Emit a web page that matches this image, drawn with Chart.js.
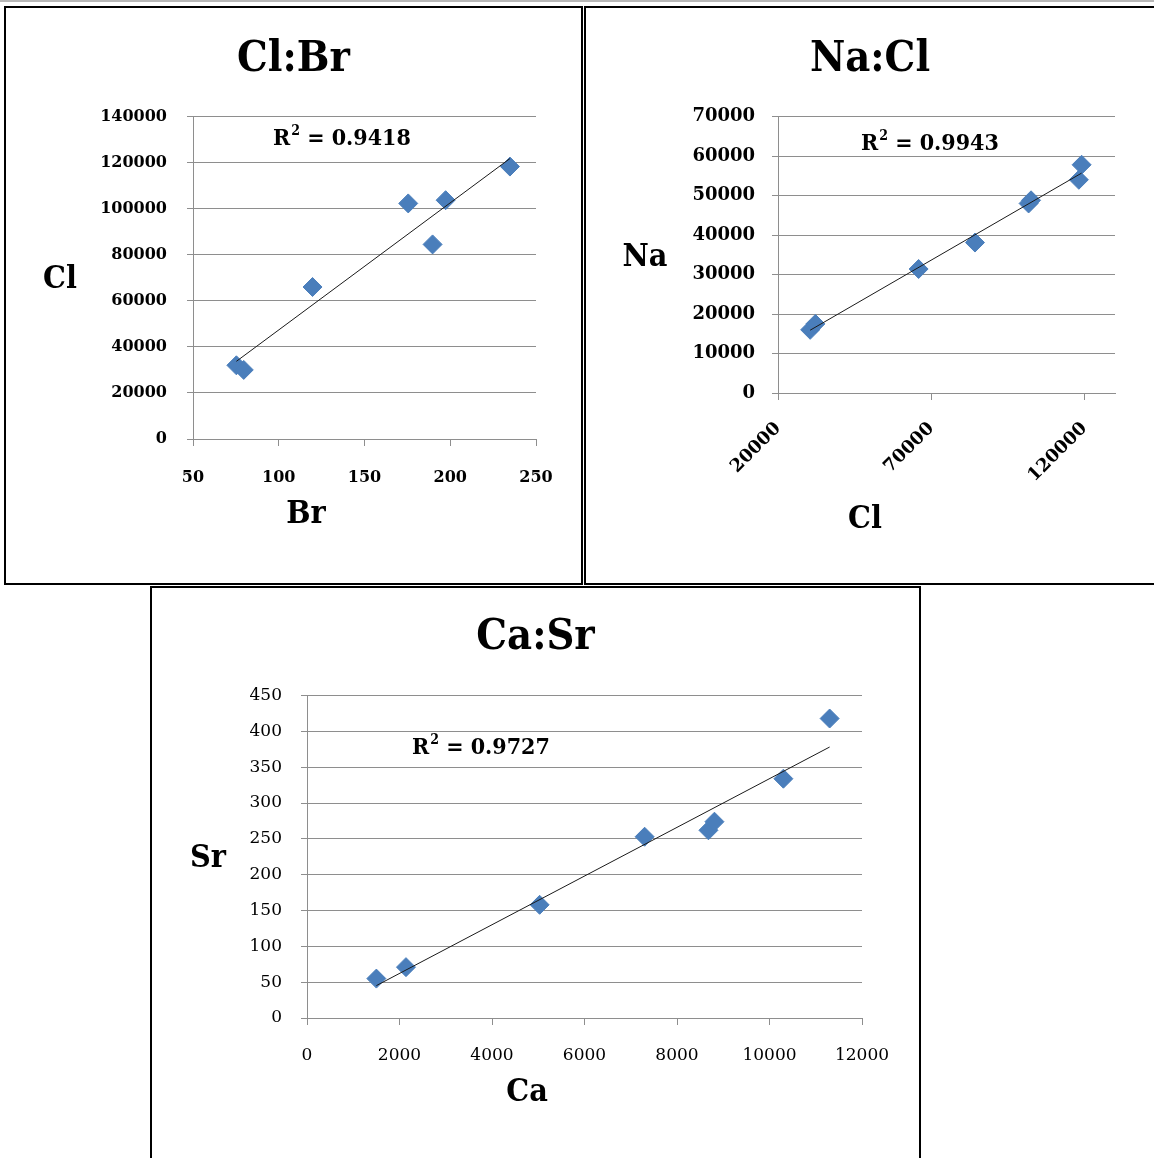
<!DOCTYPE html>
<html>
<head>
<meta charset="utf-8">
<title>Cl:Br, Na:Cl, Ca:Sr</title>
<script src="https://cdn.jsdelivr.net/npm/chart.js@4.4.0/dist/chart.umd.min.js"></script>
<style>
  html, body { margin: 0; padding: 0; background: #fff; }
  body { position: relative; width: 1154px; height: 1158px; overflow: hidden; }
  .topline { position: absolute; left: 0; top: 0; width: 1154px; height: 2px; background: #b8b8b8; }
  .box { position: absolute; border: 2px solid #000; box-sizing: border-box; }
  canvas { position: absolute; }
</style>
</head>
<body>
<div class="topline"></div>
<div class="box" style="left:4px; top:6px; width:579px; height:579px"></div>
<div class="box" style="left:584px; top:6px; width:580px; height:579px"></div>
<div class="box" style="left:150px; top:586px; width:771px; height:590px"></div>

<canvas id="clbr" width="575" height="575" style="left:6px; top:8px"></canvas>
<canvas id="nacl" width="568" height="575" style="left:586px; top:8px"></canvas>
<canvas id="casr" width="767" height="570" style="left:152px; top:588px"></canvas>

<script>
// Cl vs Br
const brValues = [75.3, 79.6, 119.7, 175.5, 189.7, 197.3, 234.8];
const clVsBr = [32000, 30000, 66000, 102300, 84500, 103700, 118300];
const brTicks = [50, 100, 150, 200, 250];
const clTicksA = [0, 20000, 40000, 60000, 80000, 100000, 120000, 140000];

// Na vs Cl
const clValues = [30500, 32200, 65900, 84300, 101800, 102600, 118200, 119100];
const naValues = [16000, 17500, 31400, 38100, 48000, 48800, 54000, 57800];
const clTicksB = [20000, 70000, 120000];
const naTicks = [0, 10000, 20000, 30000, 40000, 50000, 60000, 70000];

// Sr vs Ca
const caValues = [1500, 2140, 5030, 7300, 8680, 8810, 10300, 11300];
const srValues = [55, 71, 158, 253, 262, 274, 334, 418];
const caTicks = [0, 2000, 4000, 6000, 8000, 10000, 12000];
const srTicks = [0, 50, 100, 150, 200, 250, 300, 350, 400, 450];

const serif = '"DejaVu Serif", serif';
const condensed = '"DejaVu Serif Condensed", "DejaVu Serif", serif';
const gridGray = '#8e8e8e';
const markerBlue = '#4a7ebb';

// least squares line between the smallest and largest x
const trendLine = (xs, ys) => {
  const n = xs.length;
  const mx = xs.reduce((s, v) => s + v, 0) / n;
  const my = ys.reduce((s, v) => s + v, 0) / n;
  let sxy = 0, sxx = 0;
  xs.forEach((x, i) => {
    sxy += (x - mx) * (ys[i] - my);
    sxx += (x - mx) * (x - mx);
  });
  const slope = sxy / sxx;
  const icpt = my - slope * mx;
  const lo = Math.min(...xs), hi = Math.max(...xs);
  return [{ x: lo, y: icpt + slope * lo }, { x: hi, y: icpt + slope * hi }];
};

// axis titles (horizontal, like the spreadsheet) and the R² note
const textLabels = {
  id: 'textLabels',
  afterDraw(chart, args, opts) {
    const ctx = chart.ctx;
    ctx.save();
    ctx.fillStyle = '#000';
    ctx.textBaseline = 'middle';
    ctx.textAlign = 'center';
    ctx.font = `bold ${opts.axisSize}px ${condensed}`;
    ctx.fillText(opts.yTitle[0], opts.yTitle[1], opts.yTitle[2]);
    ctx.fillText(opts.xTitle[0], opts.xTitle[1], opts.xTitle[2]);

    const r2 = opts.r2;
    let x = r2.x;
    ctx.textAlign = 'left';
    ctx.font = `bold ${r2.size}px ${condensed}`;
    ctx.fillText('R', x, r2.y);
    x += ctx.measureText('R').width + 1;
    ctx.font = `bold ${Math.round(r2.size * 0.62)}px ${condensed}`;
    ctx.fillText('2', x, r2.y - r2.size * 0.32);
    x += ctx.measureText('2').width;
    ctx.font = `bold ${r2.size}px ${condensed}`;
    ctx.fillText(' = ' + r2.text, x, r2.y);
    ctx.restore();
  },
};

const makeChart = (id, c) => {
  const points = c.xs.map((x, i) => ({ x, y: c.ys[i] }));
  new Chart(document.getElementById(id), {
    type: 'scatter',
    data: {
      datasets: [
        {
          data: trendLine(c.xs, c.ys),
          showLine: true,
          borderColor: '#1a1a1a',
          borderWidth: 1,
          pointRadius: 0,
        },
        {
          data: points,
          pointStyle: 'rectRot',
          pointRadius: 9.5,
          pointBackgroundColor: markerBlue,
          pointBorderColor: markerBlue,
          pointBorderWidth: 1,
        },
      ],
    },
    options: {
      responsive: false,
      animation: false,
      events: [],
      // equal side padding keeps the title centred on the panel
      layout: { padding: { left: c.side, right: c.side, top: 0, bottom: 0 } },
      plugins: {
        legend: { display: false },
        tooltip: { enabled: false },
        title: {
          display: true,
          text: c.title,
          color: '#000',
          font: { family: condensed, size: 43, weight: 'bold' },
          padding: { top: c.titleTop, bottom: c.titleBottom },
        },
        textLabels: c.labels,
      },
      scales: {
        x: {
          type: 'linear',
          min: c.xMin,
          max: c.xMax,
          afterBuildTicks: (s) => { s.ticks = c.xTicks.map((v) => ({ value: v })); },
          afterFit: (s) => { s.height = c.xHeight; },
          grid: { drawOnChartArea: false, color: gridGray, tickLength: 7 },
          border: { color: gridGray },
          ticks: {
            autoSkip: false,
            color: '#000',
            padding: c.xPad,
            minRotation: c.xRot,
            maxRotation: c.xRot,
            font: c.xFont,
            callback: (v) => String(v),
          },
        },
        y: {
          type: 'linear',
          min: c.yMin,
          max: c.yMax,
          afterBuildTicks: (s) => { s.ticks = c.yTicks.map((v) => ({ value: v })); },
          afterFit: (s) => { s.width = c.yWidth; },
          grid: { color: gridGray, tickLength: 6 },
          border: { color: gridGray },
          ticks: {
            color: '#000',
            padding: c.yPad,
            font: c.yFont,
            callback: (v) => String(v),
          },
        },
      },
    },
    plugins: [textLabels],
  });
};

makeChart('clbr', {
  title: 'Cl:Br',
  xs: brValues, ys: clVsBr,
  xMin: 50, xMax: 250, xTicks: brTicks,
  yMin: 0, yMax: 140000, yTicks: clTicksA,
  side: 45, yWidth: 142, xHeight: 144,
  titleTop: 26, titleBottom: 31,
  xPad: 22, xRot: 0, yPad: 20,
  xFont: { family: serif, size: 16, weight: 'bold' },
  yFont: { family: serif, size: 16, weight: 'bold' },
  labels: {
    axisSize: 32,
    yTitle: ['Cl', 54, 272],
    xTitle: ['Br', 300, 507],
    r2: { x: 267, y: 131, size: 23, text: '0.9418' },
  },
});

makeChart('nacl', {
  title: 'Na:Cl',
  xs: clValues, ys: naValues,
  xMin: 20000, xMax: 130000, xTicks: clTicksB,
  yMin: 0, yMax: 70000, yTicks: naTicks,
  side: 39, yWidth: 153, xHeight: 190,
  titleTop: 26, titleBottom: 31,
  xPad: 18, xRot: 45, yPad: 17,
  xFont: { family: serif, size: 18, weight: 'bold' },
  yFont: { family: serif, size: 18, weight: 'bold' },
  labels: {
    axisSize: 32,
    yTitle: ['Na', 59, 250],
    xTitle: ['Cl', 279, 512],
    r2: { x: 275, y: 136, size: 23, text: '0.9943' },
  },
});

makeChart('casr', {
  title: 'Ca:Sr',
  xs: caValues, ys: srValues,
  xMin: 0, xMax: 12000, xTicks: caTicks,
  yMin: 0, yMax: 450, yTicks: srTicks,
  side: 57, yWidth: 98, xHeight: 140,
  titleTop: 24, titleBottom: 32,
  xPad: 20, xRot: 0, yPad: 19,
  xFont: { family: serif, size: 17 },
  yFont: { family: serif, size: 17 },
  labels: {
    axisSize: 32,
    yTitle: ['Sr', 56, 271],
    xTitle: ['Ca', 375, 505],
    r2: { x: 260, y: 160, size: 23, text: '0.9727' },
  },
});
</script>
</body>
</html>
